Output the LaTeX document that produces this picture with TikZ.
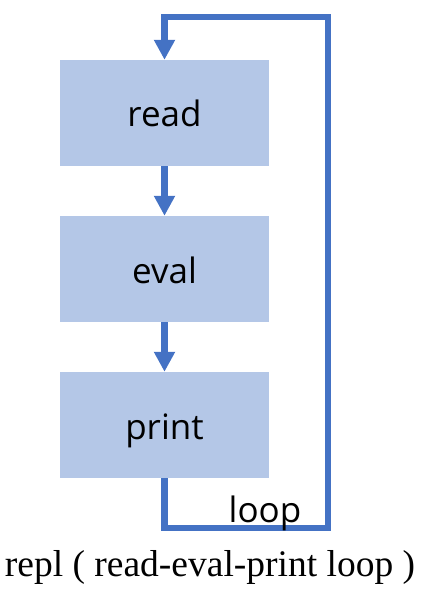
\documentclass[tikz,border=0pt]{standalone}
\usepackage{fontspec}
\setmainfont{Liberation Serif}
\setsansfont{Open Sans}
\usepackage{tikz}
\usetikzlibrary{arrows.meta,positioning,calc}
\definecolor{boxblue}{HTML}{B4C7E7}
\definecolor{lineblue}{HTML}{4472C4}

\begin{document}
\begin{tikzpicture}[x=1pt,y=-1pt,
  stage/.style={rectangle,fill=boxblue,minimum width=209pt,minimum height=106pt,inner sep=0pt,text height=28pt,text depth=0pt,font=\sffamily\fontsize{35}{40}\selectfont},
  arr/.style={-{Triangle[width=20pt,length=20pt]},line width=6.5pt,draw=lineblue}]
\useasboundingbox (0,0) rectangle (424,609);
\node[stage] (rd) at (164.5,113) {read};
\node[stage] (ev) at (164.5,269) {eval};
\node[stage] (pr) at (164.5,425) {print};
\coordinate (lpbot) at (328,528);
\coordinate (lptop) at (328,17);
\draw[arr] (rd) -- (ev);
\draw[arr] (ev) -- (pr);
\draw[arr] (pr.south) |- (lpbot) -- (lptop) -| (rd.north);
\node[font=\sffamily\fontsize{35}{40}\selectfont,anchor=base] (lbl) at (265,522) {loop};
\node[font=\fontsize{37.5}{42}\selectfont,anchor=base] (cap) at (210,576) {repl ( read-eval-print loop )};
\end{tikzpicture}
\end{document}
